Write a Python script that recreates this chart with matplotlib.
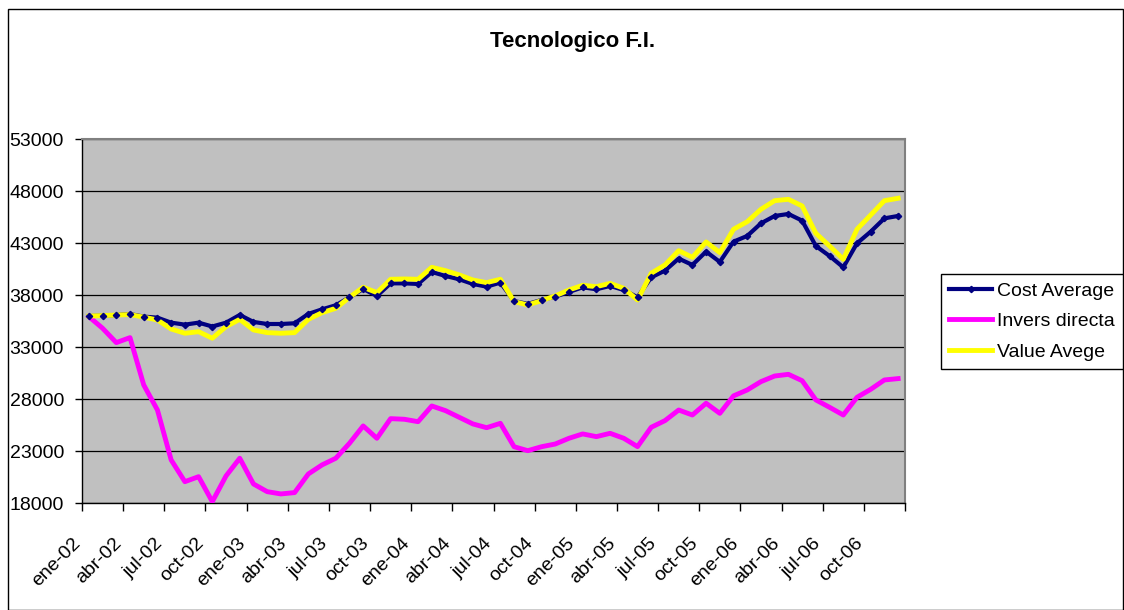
import matplotlib
matplotlib.use("Agg")
import matplotlib.pyplot as plt
import numpy as np
from matplotlib.patches import Rectangle
from matplotlib.lines import Line2D
from matplotlib.transforms import ScaledTranslation

plt.rcParams['font.family'] = ['Liberation Sans', 'DejaVu Sans']

month_names = ['ene', 'feb', 'mar', 'abr', 'may', 'jun', 'jul', 'ago', 'sep', 'oct', 'nov', 'dic']
years = ['02', '03', '04', '05', '06']
months = [f"{m}-{y}" for y in years for m in month_names]

cost_average = [36000, 36050, 36100, 36200, 35950, 35850, 35370, 35180, 35370, 35000,
                35370, 36110, 35440, 35240, 35240, 35310, 36210, 36650, 37040, 37810,
                38610, 37940, 39150, 39150, 39090, 40240, 39860, 39540, 39090, 38830,
                39220, 37450, 37170, 37550, 37870, 38320, 38770, 38580, 38900, 38510,
                37810, 39730, 40370, 41530, 40920, 42200, 41210, 43160, 43710, 44920,
                45630, 45820, 45180, 42740, 41780, 40690, 43000, 44120, 45400, 45630]

invers_directa = [35950, 34830, 33450, 33930, 29380, 26970, 22170, 20080, 20560, 18160,
                  20630, 22330, 19860, 19120, 18900, 19030, 20820, 21690, 22330, 23770,
                  25440, 24250, 26140, 26080, 25850, 27360, 26910, 26270, 25630, 25270,
                  25690, 23440, 23060, 23440, 23700, 24250, 24670, 24410, 24730, 24250,
                  23450, 25310, 25950, 26970, 26490, 27620, 26650, 28330, 28900, 29700,
                  30240, 30400, 29790, 27940, 27230, 26490, 28190, 28960, 29860, 29990]

value_avege = [36000, 36050, 36100, 36150, 35900, 35630, 34760, 34350, 34500, 33870,
               34990, 35690, 34670, 34410, 34350, 34410, 35690, 36330, 36750, 37810,
               38770, 38260, 39540, 39570, 39540, 40690, 40370, 39960, 39470, 39220,
               39540, 37400, 37070, 37490, 37940, 38510, 38960, 38830, 39150, 38670,
               37550, 40120, 40920, 42290, 41650, 43130, 42100, 44350, 45080, 46270,
               47100, 47230, 46590, 43960, 42740, 41460, 44350, 45720, 47100, 47330]

y_ticks = [18000, 23000, 28000, 33000, 38000, 43000, 48000, 53000]

W, H = 1124, 610
fig = plt.figure(figsize=(W / 100, H / 100), dpi=100)
fig.patch.set_facecolor('white')

# chart border
fig.add_artist(Rectangle((8 / W, 0.5 / H), (W - 9) / W, (H - 9) / H, transform=fig.transFigure,
                         fill=False, edgecolor='black', linewidth=1.0))

ax = fig.add_axes([82 / W, 1 - 503.3 / H, (905 - 82) / W, (503.3 - 139.3) / H])
ax.set_facecolor('#C0C0C0')

n = len(months)
x = np.arange(n) + 0.5

ax.plot(x, cost_average, color='#000080', lw=3.0, solid_joinstyle='round', zorder=3)
ax.plot(x, invers_directa, color='#FF00FF', lw=3.5, solid_joinstyle='round', zorder=3)
ax.plot(x, value_avege, color='#FFFF00', lw=3.5, solid_joinstyle='round', zorder=4)
ax.plot(x, cost_average, ls='none', marker='D', ms=3.2, color='#000080', zorder=5)

ax.set_xlim(0, n)
ax.set_ylim(18000, 53000)
ax.set_yticks(y_ticks)
ax.set_yticklabels([str(v) for v in y_ticks], fontsize=14)
ax.yaxis.grid(True, color='black', lw=0.9)
ax.set_axisbelow(True)

xt = np.arange(0, n + 1, 3)
ax.set_xticks(xt)
ax.set_xticklabels([months[i] if i < n else '' for i in xt], fontsize=14,
                   rotation=45, ha='right', va='center', rotation_mode='anchor')
ax.tick_params(axis='x', direction='out', length=6, width=1, pad=21, colors='black')
ax.tick_params(axis='y', direction='out', length=5, width=1, pad=8)
for lab in ax.get_xticklabels():
    lab.set_transform(lab.get_transform() + ScaledTranslation(-0.04, 0, fig.dpi_scale_trans))

for s in ['top', 'right']:
    ax.spines[s].set_color('#808080')
    ax.spines[s].set_linewidth(1.5)
for s in ['left', 'bottom']:
    ax.spines[s].set_color('black')
    ax.spines[s].set_linewidth(1.0)

fig.text(573 / W, 1 - 42 / H, 'Tecnologico F.I.', fontsize=16, fontweight='bold',
         ha='center', va='center')

handles = [Line2D([], [], color='#000080', lw=3.0, marker='D', ms=3.2),
           Line2D([], [], color='#FF00FF', lw=3.5),
           Line2D([], [], color='#FFFF00', lw=3.5)]
leg = fig.legend(handles, ['Cost Average', 'Invers directa', 'Value Avege'],
                 loc='upper left', bbox_to_anchor=(941 / W, 1 - 274 / H),
                 bbox_transform=fig.transFigure, fontsize=14, frameon=True,
                 fancybox=False, edgecolor='black', framealpha=1,
                 handlelength=2.2, handletextpad=0.25, borderpad=0.42,
                 labelspacing=0.66, borderaxespad=0, markerfirst=True)
leg.get_frame().set_linewidth(1.0)

fig.savefig('out.png', dpi=100, facecolor='white')
